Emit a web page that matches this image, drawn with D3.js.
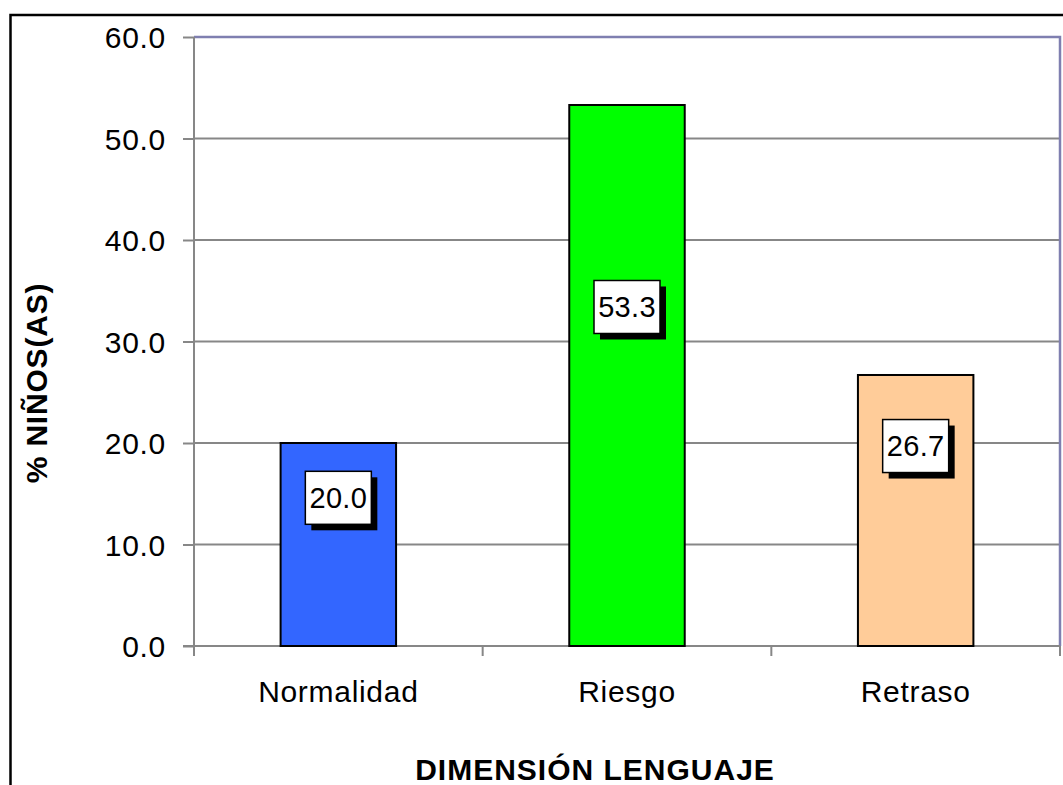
<!DOCTYPE html>
<html>
<head>
<meta charset="utf-8">
<script src="https://cdn.jsdelivr.net/npm/d3@7"></script>
<style>
  html, body { margin: 0; padding: 0; background: #fff; }
  svg { display: block; font-family: "Liberation Sans", Arial, sans-serif; }
</style>
</head>
<body>
<svg id="chart"></svg>
<script>
"use strict";

// data
var categories = ["Normalidad", "Riesgo", "Retraso"];
var values = [20.0, 53.3, 26.7];
var barColors = ["#3366ff", "#00ff00", "#ffcc99"];
var yTicks = [0, 10, 20, 30, 40, 50, 60];
// where each data label box sits (in axis units), labels were dragged by hand
var labelAt = [14.6, 33.4, 19.7];

var W = 1063, H = 785;
var plot = { left: 194, right: 1060, top: 37, bottom: 646 };

var svg = d3.select("#chart")
  .attr("width", W)
  .attr("height", H);

// outer chart frame (runs off the page right and bottom)
svg.append("rect")
  .attr("x", 10.5)
  .attr("y", 15)
  .attr("width", W + 20)
  .attr("height", H + 20)
  .attr("fill", "#fff")
  .attr("stroke", "#000")
  .attr("stroke-width", 2.5);

var x = d3.scaleBand()
  .domain(categories)
  .range([plot.left, plot.right])
  .padding(0);

var y = d3.scaleLinear()
  .domain([0, 60])
  .range([plot.bottom, plot.top]);

// gridlines
svg.append("g")
  .selectAll("line")
  .data(yTicks.slice(1, -1))
  .join("line")
  .attr("x1", plot.left)
  .attr("x2", plot.right)
  .attr("y1", function (d) { return y(d); })
  .attr("y2", function (d) { return y(d); })
  .attr("stroke", "#878787")
  .attr("stroke-width", 2);

// plot area border (top + right)
svg.append("path")
  .attr("d", "M" + plot.left + "," + plot.top + "H" + plot.right + "V" + plot.bottom)
  .attr("fill", "none")
  .attr("stroke", "#7f7fb0")
  .attr("stroke-width", 2.5);

// y axis
var yAxis = svg.append("g")
  .attr("transform", "translate(" + plot.left + ",0)")
  .call(d3.axisLeft(y)
    .tickValues(yTicks)
    .tickSize(11)
    .tickPadding(17)
    .tickFormat(d3.format(".1f")));

yAxis.select(".domain").remove();
yAxis.selectAll(".tick line")
  .attr("stroke", "#878787")
  .attr("stroke-width", 2);
yAxis.selectAll(".tick text")
  .attr("fill", "#000")
  .attr("font-size", "30px")
  .attr("letter-spacing", "0.7px")
  .attr("font-family", "Liberation Sans, Arial, sans-serif")
  .attr("dy", "0.36em");

yAxis.append("line")
  .attr("x1", 0).attr("x2", 0)
  .attr("y1", plot.top).attr("y2", plot.bottom + 10)
  .attr("stroke", "#878787")
  .attr("stroke-width", 2);

// x axis
var xg = svg.append("g");
xg.append("line")
  .attr("x1", plot.left - 11)
  .attr("x2", plot.right)
  .attr("y1", plot.bottom)
  .attr("y2", plot.bottom)
  .attr("stroke", "#878787")
  .attr("stroke-width", 2);

var bounds = categories.map(function (c) { return x(c); }).concat([plot.right]);
xg.selectAll("line.tk")
  .data(bounds)
  .join("line")
  .attr("class", "tk")
  .attr("x1", function (d) { return d; })
  .attr("x2", function (d) { return d; })
  .attr("y1", plot.bottom)
  .attr("y2", plot.bottom + 10)
  .attr("stroke", "#878787")
  .attr("stroke-width", 2);

xg.selectAll("text")
  .data(categories)
  .join("text")
  .attr("x", function (d) { return x(d) + x.bandwidth() / 2; })
  .attr("y", 702)
  .attr("text-anchor", "middle")
  .attr("font-size", "30px")
  .attr("letter-spacing", "0.7px")
  .text(function (d) { return d; });

// bars
var barW = x.bandwidth() * 0.4;
svg.append("g")
  .selectAll("rect")
  .data(values)
  .join("rect")
  .attr("x", function (d, i) { return x(categories[i]) + (x.bandwidth() - barW) / 2; })
  .attr("y", function (d) { return y(d); })
  .attr("width", barW)
  .attr("height", function (d) { return y(0) - y(d); })
  .attr("fill", function (d, i) { return barColors[i]; })
  .attr("stroke", "#000")
  .attr("stroke-width", 2);

// data labels with drop shadow
var boxW = 66, boxH = 53, shadow = 6;
var labels = svg.append("g")
  .selectAll("g")
  .data(values)
  .join("g")
  .attr("transform", function (d, i) {
    var cx = x(categories[i]) + x.bandwidth() / 2;
    return "translate(" + cx + "," + y(labelAt[i]) + ")";
  });

labels.append("rect")
  .attr("x", -boxW / 2 + shadow)
  .attr("y", -boxH / 2 + shadow)
  .attr("width", boxW)
  .attr("height", boxH)
  .attr("fill", "#000");

labels.append("rect")
  .attr("x", -boxW / 2)
  .attr("y", -boxH / 2)
  .attr("width", boxW)
  .attr("height", boxH)
  .attr("fill", "#fff")
  .attr("stroke", "#000")
  .attr("stroke-width", 1.5);

labels.append("text")
  .attr("text-anchor", "middle")
  .attr("dy", "0.36em")
  .attr("font-size", "29px")
  .attr("letter-spacing", "0.3px")
  .text(function (d) { return d3.format(".1f")(d); });

// axis titles
svg.append("text")
  .attr("x", 595)
  .attr("y", 780)
  .attr("text-anchor", "middle")
  .attr("font-size", "30px")
  .attr("font-weight", "bold")
  .attr("letter-spacing", "1px")
  .text("DIMENSIÓN LENGUAJE");

svg.append("text")
  .attr("transform", "translate(47,383) rotate(-90)")
  .attr("text-anchor", "middle")
  .attr("font-size", "30px")
  .attr("font-weight", "bold")
  .attr("letter-spacing", "0.8px")
  .text("% NIÑOS(AS)");
</script>
</body>
</html>
